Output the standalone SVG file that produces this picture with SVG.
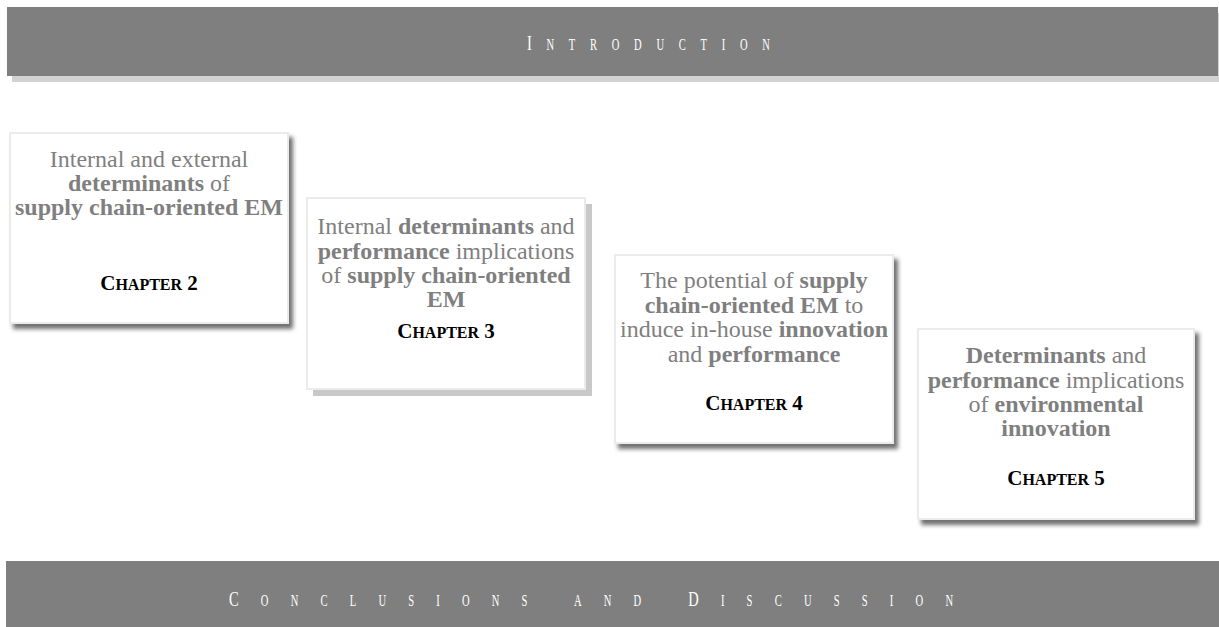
<svg xmlns="http://www.w3.org/2000/svg" width="1219" height="627" viewBox="0 0 1219 627">
  <defs>
    <filter id="soft" x="-10%" y="-10%" width="125%" height="130%">
      <feDropShadow dx="4" dy="5" stdDeviation="2.2" flood-color="#404040" flood-opacity="0.75"/>
    </filter>
    <style>
      .banner { fill: #7f7f7f; }
      .bannerShadow { fill: #d2d2d2; }
      .bannerText { font-family: "Liberation Serif", "Times New Roman", serif; fill: #ffffff; }
      .card { fill: #ffffff; stroke: #ebebeb; stroke-width: 2; }
      .body { font-family: "Liberation Serif", "Times New Roman", serif; font-size: 24px; fill: #7f7f7f; text-anchor: middle; }
      .b { font-weight: bold; }
      .chap { font-family: "Liberation Serif", "Times New Roman", serif; font-weight: bold; fill: #000000; text-anchor: middle; font-size: 21px; }
      .sc { font-size: 16px; }
    </style>
  </defs>

  <!-- Top banner -->
  <g id="introduction">
    <rect class="bannerShadow" x="12" y="13" width="1207" height="69"/>
    <rect class="banner" x="7" y="7" width="1211" height="69"/>
    <text class="bannerText" transform="translate(527,50) scale(0.66,1)" textLength="368" lengthAdjust="spacing"><tspan font-size="22">I</tspan><tspan font-size="16">NTRODUCTION</tspan></text>
  </g>

  <!-- Chapter cards -->
  <g id="chapter2">
    <rect class="card" x="10" y="133" width="278" height="190" filter="url(#soft)"/>
    <text class="body" x="149" y="167">Internal and external</text>
    <text class="body" x="149" y="191"><tspan class="b">determinants</tspan> of</text>
    <text class="body" x="149" y="215"><tspan class="b">supply chain-oriented EM</tspan></text>
    <text class="chap" x="149" y="290">C<tspan class="sc">HAPTER</tspan> 2</text>
  </g>

  <g id="chapter3">
    <rect fill="#c8c8c8" x="313" y="204" width="279" height="192"/>
    <rect class="card" x="307" y="198" width="278" height="191"/>
    <text class="body" x="446" y="234">Internal <tspan class="b">determinants</tspan> and</text>
    <text class="body" x="446" y="259"><tspan class="b">performance</tspan> implications</text>
    <text class="body" x="446" y="283">of <tspan class="b">supply chain-oriented</tspan></text>
    <text class="body" x="446" y="307"><tspan class="b">EM</tspan></text>
    <text class="chap" x="446" y="338">C<tspan class="sc">HAPTER</tspan> 3</text>
  </g>

  <g id="chapter4">
    <rect class="card" x="615" y="255" width="278" height="188" filter="url(#soft)"/>
    <text class="body" x="754" y="288">The potential of <tspan class="b">supply</tspan></text>
    <text class="body" x="754" y="313"><tspan class="b">chain-oriented EM</tspan> to</text>
    <text class="body" x="754" y="337">induce in-house <tspan class="b">innovation</tspan></text>
    <text class="body" x="754" y="362">and <tspan class="b">performance</tspan></text>
    <text class="chap" x="754" y="410">C<tspan class="sc">HAPTER</tspan> 4</text>
  </g>

  <g id="chapter5">
    <rect class="card" x="918" y="329" width="276" height="190" filter="url(#soft)"/>
    <text class="body" x="1056" y="363"><tspan class="b">Determinants</tspan> and</text>
    <text class="body" x="1056" y="388"><tspan class="b">performance</tspan> implications</text>
    <text class="body" x="1056" y="412">of <tspan class="b">environmental</tspan></text>
    <text class="body" x="1056" y="436"><tspan class="b">innovation</tspan></text>
    <text class="chap" x="1056" y="485">C<tspan class="sc">HAPTER</tspan> 5</text>
  </g>

  <!-- Bottom banner -->
  <g id="conclusions">
    <rect class="banner" x="6" y="561" width="1213" height="66"/>
    <text class="bannerText" transform="translate(229,606) scale(0.66,1)" textLength="1097" lengthAdjust="spacing"><tspan font-size="22">C</tspan><tspan font-size="16">ONCLUSIONS AND </tspan><tspan font-size="22">D</tspan><tspan font-size="16">ISCUSSION</tspan></text>
  </g>

  <g id="connectors"/>
</svg>
